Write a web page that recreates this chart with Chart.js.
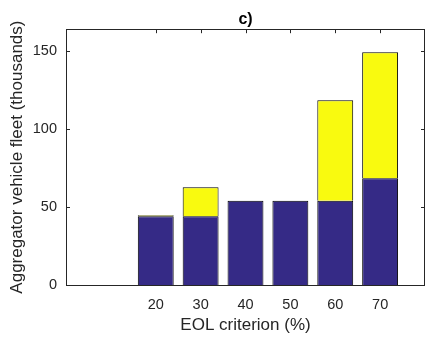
<!DOCTYPE html>
<html lang="en">
<head>
    <meta charset="UTF-8">
    <title>EOL criterion - aggregator vehicle fleet</title>
    <script src="https://cdn.jsdelivr.net/npm/chart.js"></script>
    <style>
        body { margin: 0; background: #fff; }
        canvas { display: block; }
    </style>
</head>
<body>
    <canvas id="frotaChart" width="426" height="345"></canvas>

    <script>
        // dados (milhares de veículos)
        const criterioEOL = [20, 30, 40, 50, 60, 70];
        const frotaBase = [44, 44, 54, 54, 54, 68.5];
        const frotaExtra = [0.7, 18.7, 0, 0, 64.4, 80.7];
        const ticksY = [0, 50, 100, 150];

        const corEixo = '#262626';
        const fonte = "'Liberation Sans', Arial, Helvetica, sans-serif";

        // caixa em volta do gráfico e ticks para dentro (estilo MATLAB)
        const caixaPlugin = {
            id: 'caixa',
            beforeDatasetsDraw(chart) {
                const { ctx, chartArea: a, scales } = chart;
                ctx.save();
                ctx.strokeStyle = corEixo;
                ctx.lineWidth = 1;
                ctx.beginPath();
                scales.x.ticks.forEach(t => {
                    const px = Math.round(scales.x.getPixelForValue(t.value)) + 0.5;
                    ctx.moveTo(px, a.bottom); ctx.lineTo(px, a.bottom - 4);
                    ctx.moveTo(px, a.top); ctx.lineTo(px, a.top + 4);
                });
                scales.y.ticks.forEach(t => {
                    const py = Math.round(scales.y.getPixelForValue(t.value)) + 0.5;
                    ctx.moveTo(a.left, py); ctx.lineTo(a.left + 4, py);
                    ctx.moveTo(a.right, py); ctx.lineTo(a.right - 4, py);
                });
                ctx.stroke();
                ctx.restore();
            },
            afterDatasetsDraw(chart) {
                const { ctx, chartArea: a } = chart;
                ctx.save();
                ctx.strokeStyle = corEixo;
                ctx.lineWidth = 1;
                ctx.strokeRect(Math.round(a.left) + 0.5, Math.round(a.top) + 0.5,
                    Math.round(a.right - a.left) - 1, Math.round(a.bottom - a.top));
                ctx.restore();
            }
        };

        const ctx = document.getElementById('frotaChart').getContext('2d');
        const grafico = new Chart(ctx, {
            type: 'bar',
            data: {
                datasets: [{
                    label: 'base',
                    data: criterioEOL.map((x, i) => ({ x: x, y: frotaBase[i] })),
                    backgroundColor: '#352A86',
                    borderColor: '#000000',
                    borderWidth: 1,
                    barPercentage: 0.8,
                    categoryPercentage: 1
                }, {
                    label: 'extra',
                    data: criterioEOL.map((x, i) => ({ x: x, y: frotaExtra[i] })),
                    backgroundColor: '#F9FA0F',
                    borderColor: '#000000',
                    borderWidth: 1,
                    barPercentage: 0.8,
                    categoryPercentage: 1
                }]
            },
            options: {
                responsive: false,
                animation: false,
                layout: { padding: { right: 1 } },
                scales: {
                    x: {
                        type: 'linear',
                        offset: false,
                        stacked: true,
                        min: 0,
                        max: 80,
                        afterBuildTicks: s => { s.ticks = criterioEOL.map(v => ({ value: v })); },
                        afterFit: s => {
                            s.height = 60;
                            s.paddingLeft = 0;
                            s.paddingRight = 0;
                        },
                        grid: { display: false, drawTicks: false, offset: false },
                        border: { display: false },
                        ticks: { padding: 11, color: corEixo, font: { family: fonte, size: 14.5 } },
                        title: {
                            display: true,
                            text: 'EOL criterion (%)',
                            color: corEixo,
                            font: { family: fonte, size: 17 },
                            padding: { top: 0, bottom: 9 }
                        }
                    },
                    y: {
                        stacked: true,
                        min: 0,
                        max: 164,
                        afterBuildTicks: s => { s.ticks = ticksY.map(v => ({ value: v })); },
                        afterFit: s => {
                            s.width = 66;
                            s.paddingTop = 0;
                            s.paddingBottom = 0;
                        },
                        grid: { display: false, drawTicks: false },
                        border: { display: false },
                        ticks: { padding: 9, color: corEixo, font: { family: fonte, size: 14.5 } },
                        title: {
                            display: true,
                            text: 'Aggregator vehicle fleet (thousands)',
                            color: corEixo,
                            font: { family: fonte, size: 17 },
                            padding: { top: 7, bottom: 0 }
                        }
                    }
                },
                plugins: {
                    legend: { display: false },
                    tooltip: { enabled: false },
                    title: {
                        display: true,
                        text: 'c)',
                        fullSize: false,
                        color: '#000000',
                        font: { family: fonte, size: 16, weight: 'bold' },
                        padding: { top: 10, bottom: 0 }
                    }
                }
            },
            plugins: [caixaPlugin]
        });
    </script>
</body>
</html>
